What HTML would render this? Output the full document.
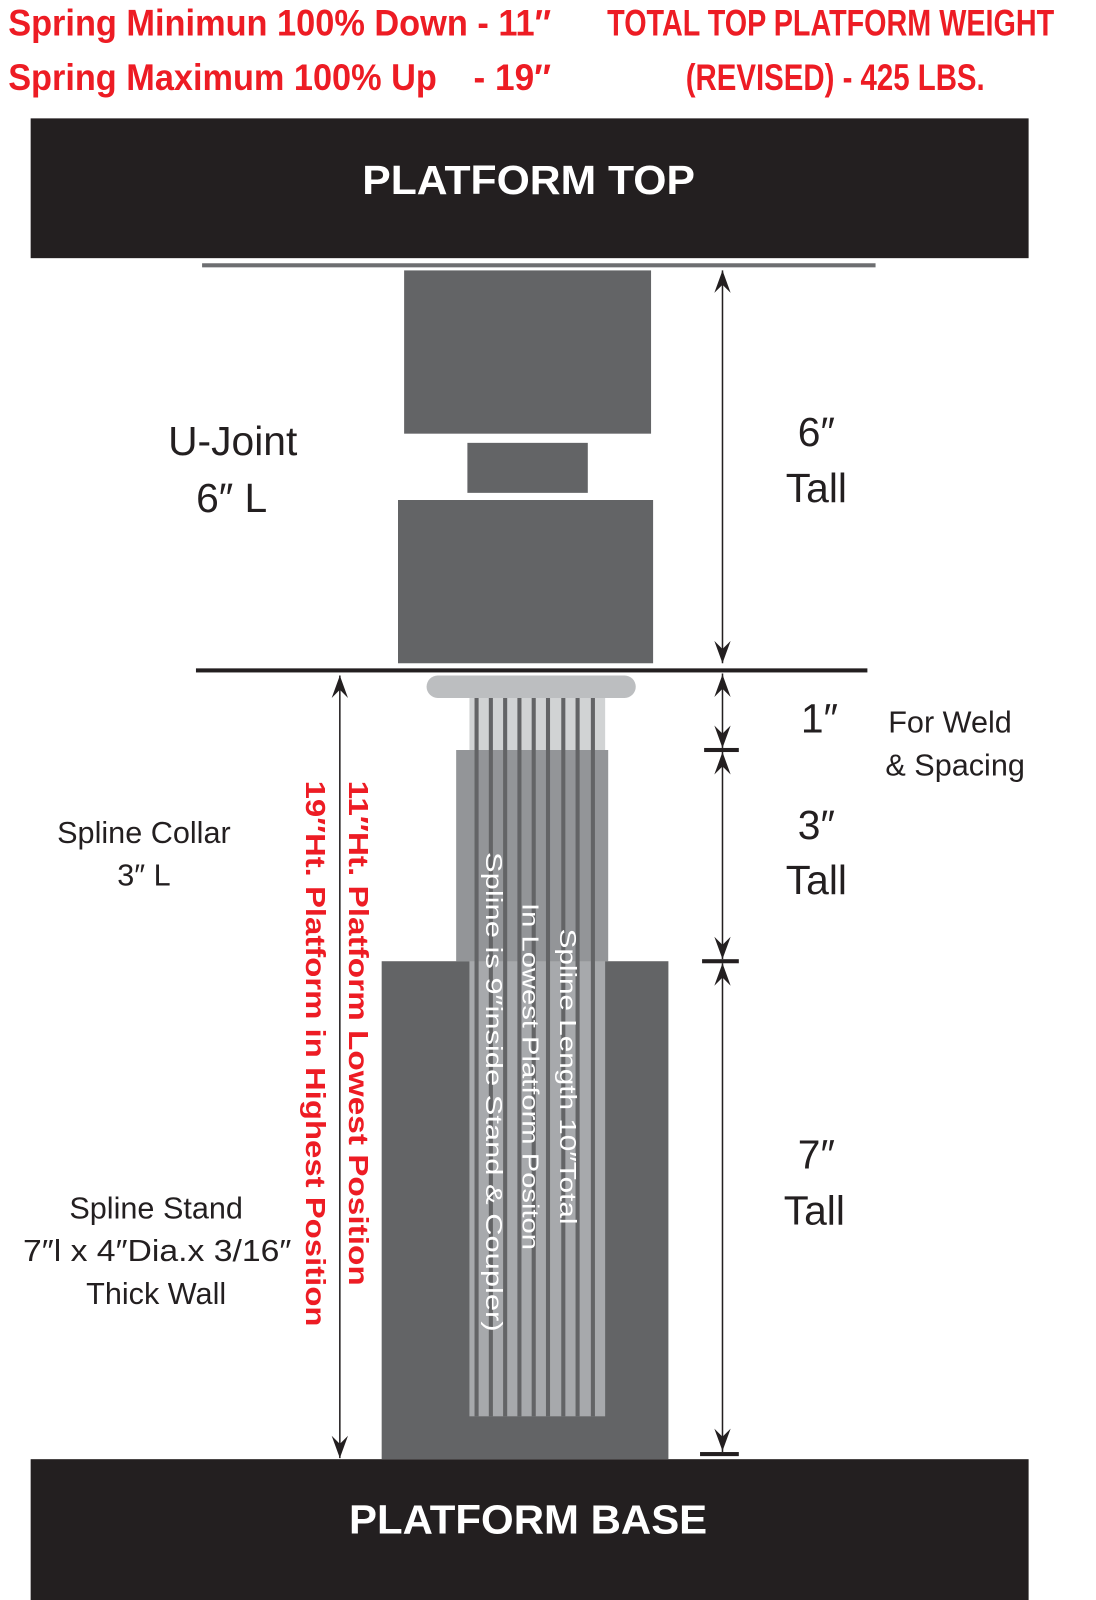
<!DOCTYPE html>
<html><head><meta charset="utf-8"><style>html,body{margin:0;padding:0;background:#fff}svg{display:block}</style></head>
<body>
<svg width="1096" height="1600" viewBox="0 0 1074 1568" xmlns="http://www.w3.org/2000/svg" font-family="Liberation Sans, sans-serif">
<rect width="1074" height="1568" fill="#fff"/>
<!-- header texts -->
<g fill="#ed1c24" font-weight="bold" font-size="36">
<text x="8" y="35" textLength="532" lengthAdjust="spacingAndGlyphs">Spring Minimun 100% Down - 11″</text>
<text x="8" y="88" textLength="420" lengthAdjust="spacingAndGlyphs">Spring Maximum 100% Up</text>
<text x="464" y="88" textLength="76" lengthAdjust="spacingAndGlyphs">- 19″</text>
<text x="595" y="35" textLength="438" lengthAdjust="spacingAndGlyphs">TOTAL TOP PLATFORM WEIGHT</text>
<text x="672" y="88" textLength="293" lengthAdjust="spacingAndGlyphs">(REVISED)  - 425 LBS.</text>
</g>
<!-- platforms -->
<rect x="30" y="116" width="978" height="137" fill="#231f20"/>
<text x="355" y="190" fill="#fff" font-weight="bold" font-size="40" textLength="326" lengthAdjust="spacingAndGlyphs">PLATFORM  TOP</text>
<rect x="30" y="1430" width="978" height="138" fill="#231f20"/>
<text x="342" y="1503" fill="#fff" font-weight="bold" font-size="40" textLength="351" lengthAdjust="spacingAndGlyphs">PLATFORM  BASE</text>
<!-- u-joint -->
<rect x="198" y="258" width="660" height="4" fill="#6d6e71"/>
<rect x="396" y="265" width="242" height="160" fill="#636466"/>
<rect x="458" y="434" width="118" height="49" fill="#636466"/>
<rect x="390" y="490" width="250" height="160" fill="#636466"/>
<rect x="192" y="655" width="658" height="4" fill="#231f20"/>
<!-- spline -->
<rect x="460" y="684" width="133" height="51" fill="#d1d3d4"/>
<rect x="447" y="735" width="149" height="207" fill="#939598"/>
<rect x="374" y="942" width="281" height="488" fill="#636466"/>
<rect x="460" y="942" width="133" height="446" fill="#a7a9ac"/>
<g fill="#636466">
<rect x="465" y="684" width="4" height="704"/><rect x="479" y="684" width="4" height="704"/><rect x="493" y="684" width="4" height="704"/><rect x="507" y="684" width="4" height="704"/><rect x="521" y="684" width="4" height="704"/><rect x="535" y="684" width="4" height="704"/><rect x="550" y="684" width="4" height="704"/><rect x="564" y="684" width="4" height="704"/><rect x="579" y="684" width="4" height="704"/>
</g>
<rect x="418" y="662" width="205" height="22" rx="11" fill="#bcbec0"/>
<g fill="#fff" font-size="23">
<text transform="translate(549,910) rotate(90)" textLength="290" lengthAdjust="spacingAndGlyphs">Spline Length 10″Total</text>
<text transform="translate(512,885) rotate(90)" textLength="340" lengthAdjust="spacingAndGlyphs">In Lowest Platform Positon</text>
<text transform="translate(476,835) rotate(90)" textLength="470" lengthAdjust="spacingAndGlyphs">Spline is 9″inside Stand &amp; Coupler)</text>
</g>
<!-- dimension lines -->
<g stroke="#231f20" stroke-width="1.5" fill="none">
<line x1="708" y1="265" x2="708" y2="650"/>
<line x1="708" y1="660" x2="708" y2="733"/>
<line x1="708" y1="737" x2="708" y2="940"/>
<line x1="708" y1="944" x2="708" y2="1423"/>
<line x1="333" y1="662" x2="333" y2="1429"/>
</g>
<g fill="#231f20">
<!-- up arrows: tip at (x,y) -->
<path d="M708,265 l-8,22 l8,-8 l8,8 z"/>
<path d="M708,661 l-8,22 l8,-8 l8,8 z"/>
<path d="M708,737 l-8,22 l8,-8 l8,8 z"/>
<path d="M708,944 l-8,22 l8,-8 l8,8 z"/>
<path d="M333,662 l-8,22 l8,-8 l8,8 z"/>
<!-- down arrows -->
<path d="M708,650 l-8,-22 l8,8 l8,-8 z"/>
<path d="M708,733 l-8,-22 l8,8 l8,-8 z"/>
<path d="M708,940 l-8,-22 l8,8 l8,-8 z"/>
<path d="M708,1422 l-8,-22 l8,8 l8,-8 z"/>
<path d="M333,1429 l-8,-22 l8,8 l8,-8 z"/>
<rect x="690" y="733" width="34" height="4"/>
<rect x="688" y="940" width="36" height="4"/>
<rect x="686" y="1423" width="38" height="4"/>
</g>
<!-- red vertical -->
<g fill="#ed1c24" font-weight="bold" font-size="27">
<text transform="translate(342,765) rotate(90)" textLength="495" lengthAdjust="spacingAndGlyphs">11″Ht. Platform Lowest Position</text>
<text transform="translate(300,765) rotate(90)" textLength="535" lengthAdjust="spacingAndGlyphs">19″Ht. Platform in Highest Position</text>
</g>
<!-- labels -->
<g fill="#231f20" text-anchor="middle">
<text x="228" y="446" font-size="40">U-Joint</text>
<text x="227" y="502" font-size="40">6″ L</text>
<text x="800" y="437" font-size="40">6″</text>
<text x="800" y="492" font-size="40">Tall</text>
<text x="803" y="718" font-size="40">1″</text>
<text x="931" y="718" font-size="30">For Weld</text>
<text x="936" y="760" font-size="30">&amp; Spacing</text>
<text x="800" y="822" font-size="40">3″</text>
<text x="800" y="876" font-size="40">Tall</text>
<text x="800" y="1145" font-size="40">7″</text>
<text x="798" y="1200" font-size="40">Tall</text>
<text x="141" y="826" font-size="30">Spline Collar</text>
<text x="141" y="868" font-size="30">3″ L</text>
<text x="153" y="1194" font-size="30">Spline Stand</text>
<text x="154" y="1236" font-size="30" textLength="263" lengthAdjust="spacingAndGlyphs">7″l x 4″Dia.x 3/16″</text>
<text x="153" y="1278" font-size="30">Thick Wall</text>
</g>
</svg>
</body></html>
